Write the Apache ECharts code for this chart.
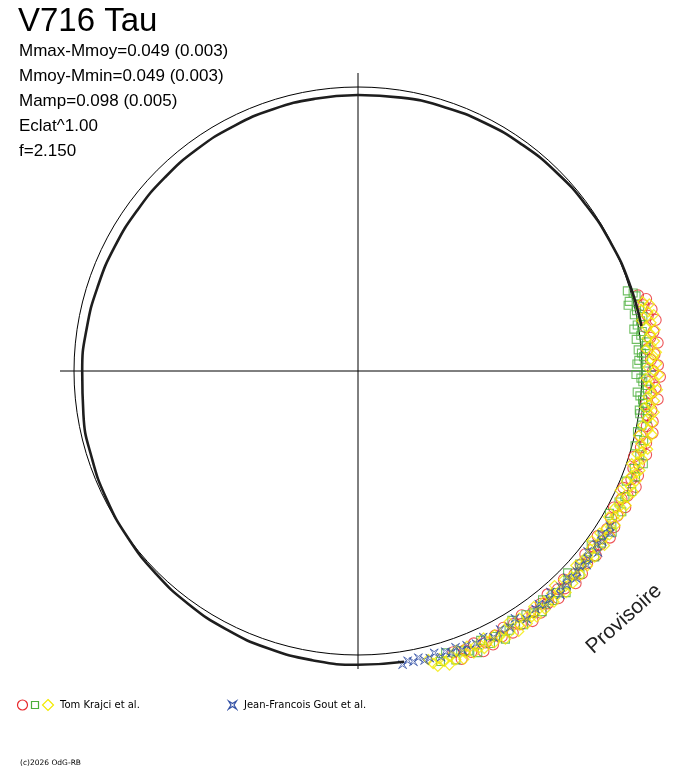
<!DOCTYPE html>
<html style="height: 100%">
<head>
<meta charset="utf-8">
</head>
<body style="height: 100%; margin: 0; background: #fff">
<div id="container" style="width: 688px; height: 768px"></div>
<script type="text/javascript" src="https://cdn.jsdelivr.net/npm/echarts@6/dist/echarts.min.js"></script>
<script type="text/javascript">
// phase runs clockwise from the top, dmag = mean mag - mag (outward = brighter)
var starName = 'V716 Tau';
var statLines = ['Mmax-Mmoy=0.049 (0.003)', 'Mmoy-Mmin=0.049 (0.003)', 'Mamp=0.098 (0.005)', 'Eclat^1.00', 'f=2.150'];
var seriesNames = ['Tom Krajci et al.', 'Jean-Francois Gout et al.'];

// black band (other observations) read round the circle; hidden under the coloured points from 0.23 to 0.47
var curvePhase = [0, 0.025, 0.05, 0.075, 0.1, 0.125, 0.15, 0.175, 0.2, 0.225, 0.25, 0.275, 0.3, 0.325, 0.35, 0.375, 0.4,
  0.425, 0.45, 0.475, 0.5, 0.525, 0.55, 0.575, 0.6, 0.625, 0.65, 0.675, 0.7, 0.725, 0.75, 0.775, 0.8, 0.825, 0.85, 0.875,
  0.9, 0.925, 0.95, 0.975, 1];
var curveDmag = [-0.040, -0.036, -0.032, -0.027, -0.022, -0.016, -0.010, -0.003, 0.006, 0.015, 0.025, 0.030, 0.035, 0.041,
  0.046, 0.050, 0.054, 0.055, 0.054, 0.052, 0.049, 0.044, 0.038, 0.030, 0.021, 0.011, 0.001, -0.009, -0.020, -0.030, -0.041,
  -0.047, -0.052, -0.054, -0.055, -0.053, -0.050, -0.047, -0.044, -0.042, -0.040];

// Tom Krajci et al. : [phase, dmag]
var krajciRed = [[0.208, 0.030], [0.211, 0.065], [0.214, 0.045], [0.217, 0.080], [0.220, 0.055], [0.223, 0.090], [0.226, 0.035],
  [0.229, 0.070], [0.232, 0.050], [0.235, 0.085], [0.238, 0.030], [0.241, 0.065], [0.244, 0.045], [0.247, 0.080], [0.250, 0.055],
  [0.253, 0.090], [0.256, 0.035], [0.259, 0.070], [0.262, 0.050], [0.265, 0.085], [0.268, 0.030], [0.271, 0.060], [0.274, 0.040],
  [0.277, 0.075], [0.280, 0.050], [0.283, 0.085], [0.286, 0.030], [0.289, 0.065], [0.292, 0.045], [0.295, 0.080], [0.298, 0.025],
  [0.301, 0.060], [0.304, 0.040], [0.307, 0.075], [0.310, 0.050], [0.313, 0.085], [0.316, 0.030], [0.319, 0.065], [0.322, 0.045],
  [0.325, 0.080], [0.328, 0.030], [0.331, 0.065], [0.334, 0.045], [0.337, 0.080], [0.340, 0.055], [0.343, 0.090], [0.346, 0.035],
  [0.349, 0.070], [0.352, 0.050], [0.355, 0.085], [0.358, 0.040], [0.361, 0.075], [0.364, 0.055], [0.367, 0.090], [0.370, 0.065],
  [0.373, 0.100], [0.376, 0.045], [0.379, 0.080], [0.382, 0.060], [0.385, 0.095], [0.388, 0.045], [0.391, 0.080], [0.394, 0.060],
  [0.397, 0.095], [0.400, 0.070], [0.403, 0.105], [0.406, 0.050], [0.409, 0.085], [0.412, 0.065], [0.415, 0.100], [0.418, 0.055],
  [0.421, 0.090], [0.424, 0.070], [0.427, 0.105], [0.430, 0.080], [0.433, 0.115], [0.436, 0.060], [0.439, 0.095], [0.442, 0.075],
  [0.445, 0.110], [0.448, 0.065]];
var krajciGreen = [[0.204, -0.015], [0.206, 0.010], [0.208, 0.020], [0.210, -0.020], [0.212, -0.030], [0.214, 0.025],
  [0.216, 0.005], [0.218, -0.010], [0.220, 0.030], [0.222, 0.015], [0.224, -0.005], [0.226, -0.025], [0.228, 0.015],
  [0.230, 0.005], [0.232, -0.020], [0.234, 0.030], [0.236, 0.025], [0.238, -0.015], [0.240, 0.000], [0.242, 0.010],
  [0.244, -0.015], [0.246, -0.025], [0.248, 0.020], [0.250, 0.020], [0.252, -0.030], [0.254, -0.005], [0.256, 0.005],
  [0.258, 0.025], [0.260, 0.030], [0.262, -0.020], [0.264, -0.005], [0.266, 0.010], [0.268, 0.015], [0.270, 0.030],
  [0.272, 0.000], [0.274, 0.005], [0.276, 0.045], [0.280, 0.025],
  [0.284, 0.010], [0.288, 0.050], [0.292, 0.015], [0.296, 0.050], [0.300, 0.080], [0.304, 0.045], [0.308, 0.065], [0.312, 0.030],
  [0.316, 0.075], [0.320, 0.055], [0.324, 0.040], [0.328, 0.075], [0.332, 0.025], [0.336, 0.060], [0.340, 0.085], [0.344, 0.050],
  [0.348, 0.070], [0.352, 0.035], [0.356, 0.085], [0.360, 0.060], [0.364, 0.050], [0.368, 0.085], [0.372, 0.035], [0.376, 0.070],
  [0.380, 0.100], [0.384, 0.065], [0.388, 0.085], [0.392, 0.050], [0.396, 0.095], [0.400, 0.075], [0.404, 0.060], [0.408, 0.095],
  [0.412, 0.045], [0.416, 0.080], [0.420, 0.110], [0.424, 0.075], [0.428, 0.095], [0.432, 0.060], [0.436, 0.110], [0.440, 0.085],
  [0.444, 0.070], [0.448, 0.105], [0.452, 0.055], [0.456, 0.090]];
var krajciYellow = [[0.212, 0.045], [0.214, 0.075], [0.216, 0.030], [0.218, 0.060], [0.220, 0.085], [0.222, 0.020], [0.224, 0.065],
  [0.226, 0.040], [0.228, 0.080], [0.230, 0.055], [0.232, 0.035], [0.234, 0.070], [0.236, 0.050], [0.238, 0.025], [0.240, 0.075],
  [0.242, 0.060], [0.244, 0.045], [0.246, 0.075], [0.248, 0.030], [0.250, 0.060], [0.252, 0.085], [0.254, 0.020], [0.256, 0.065],
  [0.258, 0.040], [0.260, 0.080], [0.262, 0.055], [0.264, 0.035], [0.266, 0.070], [0.268, 0.050], [0.270, 0.025], [0.272, 0.075],
  [0.274, 0.060], [0.276, 0.045], [0.278, 0.075], [0.280, 0.030], [0.282, 0.060], [0.284, 0.085], [0.286, 0.020], [0.288, 0.065],
  [0.290, 0.040], [0.292, 0.080], [0.294, 0.055], [0.296, 0.035], [0.298, 0.070], [0.300, 0.050], [0.302, 0.025], [0.304, 0.075],
  [0.306, 0.060], [0.308, 0.045], [0.310, 0.075], [0.312, 0.030], [0.314, 0.060], [0.316, 0.085], [0.318, 0.020], [0.320, 0.065],
  [0.322, 0.040], [0.324, 0.080], [0.326, 0.055], [0.328, 0.035], [0.330, 0.075], [0.332, 0.055], [0.334, 0.030], [0.336, 0.080],
  [0.338, 0.065], [0.340, 0.050], [0.342, 0.080], [0.344, 0.035], [0.346, 0.065], [0.348, 0.090], [0.350, 0.025], [0.352, 0.070],
  [0.354, 0.045], [0.356, 0.085], [0.358, 0.060], [0.360, 0.050], [0.362, 0.085], [0.364, 0.065], [0.366, 0.040], [0.368, 0.090],
  [0.370, 0.075], [0.372, 0.060], [0.374, 0.090], [0.376, 0.045], [0.378, 0.075], [0.380, 0.100], [0.382, 0.035], [0.384, 0.080],
  [0.386, 0.055], [0.388, 0.095], [0.390, 0.080], [0.392, 0.060], [0.394, 0.095], [0.396, 0.075], [0.398, 0.050], [0.400, 0.100],
  [0.402, 0.085], [0.404, 0.070], [0.406, 0.100], [0.408, 0.055], [0.410, 0.085], [0.412, 0.110], [0.414, 0.045], [0.416, 0.090],
  [0.418, 0.065], [0.420, 0.110], [0.422, 0.085], [0.424, 0.065], [0.426, 0.100], [0.428, 0.080], [0.430, 0.055], [0.432, 0.105],
  [0.434, 0.090], [0.436, 0.075], [0.438, 0.105], [0.440, 0.060], [0.442, 0.090], [0.444, 0.115], [0.446, 0.060], [0.448, 0.105],
  [0.450, 0.080], [0.452, 0.120], [0.454, 0.095], [0.456, 0.075], [0.458, 0.110], [0.460, 0.090], [0.462, 0.065]];
// Jean-Francois Gout et al.
var goutBlue = [[0.338, 0.060], [0.341, 0.080], [0.344, 0.045], [0.347, 0.070], [0.350, 0.055], [0.353, 0.085], [0.356, 0.040],
  [0.359, 0.065], [0.362, 0.080], [0.365, 0.055], [0.368, 0.065], [0.371, 0.085], [0.374, 0.050], [0.377, 0.075], [0.380, 0.060],
  [0.383, 0.090], [0.386, 0.045], [0.389, 0.070], [0.392, 0.080], [0.395, 0.055], [0.398, 0.065], [0.405, 0.080], [0.410, 0.045],
  [0.415, 0.070], [0.420, 0.055], [0.425, 0.075], [0.430, 0.050], [0.435, 0.065], [0.440, 0.055], [0.443, 0.070], [0.446, 0.045],
  [0.449, 0.065], [0.452, 0.050], [0.455, 0.070], [0.458, 0.040], [0.461, 0.060], [0.464, 0.065], [0.467, 0.045], [0.470, 0.060],
  [0.473, 0.050], [0.476, 0.065]];

var colRed = '#e8282c', colGreen = '#4caf3c', colYellow = '#f2ea00', colBlue = '#3552a6';
var starPath = 'path://M0,0 L5,3.5 L10,0 L6.5,5 L10,10 L5,6.5 L0,10 L3.5,5 Z';

function toPolar(pts) {
  return pts.map(function (p) { return [p[1], p[0]]; });
}
var curveAll = curvePhase.map(function (p, i) { return [curveDmag[i], p]; });
var curveHead = curveAll.filter(function (d) { return d[1] <= 0.225; });
var curveTail = curveAll.filter(function (d) { return d[1] >= 0.475; });

function hollow(name, pts, symbol, size, color, bw) {
  return {
    name: name, type: 'scatter', coordinateSystem: 'polar', polarIndex: 0,
    data: toPolar(pts), symbol: symbol, symbolSize: size, clip: false,
    itemStyle: { color: 'rgba(0,0,0,0)', borderColor: color, borderWidth: bw },
    silent: true
  };
}
function band(data) {
  return {
    type: 'line', coordinateSystem: 'polar', polarIndex: 0, data: data,
    smooth: true, symbol: 'none', clip: false, silent: true,
    lineStyle: { color: '#1e1e1e', width: 2.6 }
  };
}

var font = '"Liberation Sans", Arial, sans-serif';
var graphics = [
  { type: 'text', x: 18, y: 22, style: { text: starName, font: '33px ' + font, fill: '#000', verticalAlign: 'middle' } }
];
statLines.forEach(function (t, i) {
  graphics.push({ type: 'text', x: 19, y: 51 + i * 25, style: { text: t, font: '17px ' + font, fill: '#000', verticalAlign: 'middle' } });
});
// legend
graphics.push(
  { type: 'circle', shape: { cx: 22.5, cy: 705, r: 5 }, style: { fill: 'none', stroke: colRed, lineWidth: 1.2 } },
  { type: 'rect', shape: { x: 31.5, y: 701.5, width: 7, height: 7 }, style: { fill: 'none', stroke: colGreen, lineWidth: 1.2 } },
  { type: 'polygon', shape: { points: [[48, 699.5], [53.5, 705], [48, 710.5], [42.5, 705]] }, style: { fill: 'none', stroke: colYellow, lineWidth: 1.2 } },
  { type: 'text', x: 60, y: 705.5, style: { text: seriesNames[0], font: '10px "DejaVu Sans", sans-serif', fill: '#000', verticalAlign: 'middle' } },
  { type: 'polygon', shape: { points: [[228.5, 701], [232.5, 703.5], [236.5, 701], [234, 705], [236.5, 709], [232.5, 706.5], [228.5, 709], [231, 705]] },
    style: { fill: 'none', stroke: colBlue, lineWidth: 1.2 } },
  { type: 'text', x: 244, y: 705.5, style: { text: seriesNames[1], font: '10px "DejaVu Sans", sans-serif', fill: '#000', verticalAlign: 'middle' } },
  { type: 'text', x: 20, y: 763.5, style: { text: '(c)2026 OdG-RB', font: '7.5px "DejaVu Sans", sans-serif', fill: '#000', verticalAlign: 'middle' } },
  { type: 'text', x: 624, y: 619, rotation: 0.733, style: { text: 'Provisoire', font: '21px ' + font, fill: '#222', align: 'center', verticalAlign: 'middle' } }
);

var dom = document.getElementById('container');
var myChart = echarts.init(dom);
var option = {
  backgroundColor: '#fff',
  animation: false,
  polar: [
    { center: [358, 371], radius: 298 },   // data + cross
    { center: [358, 371], radius: 284 }    // mean circle
  ],
  angleAxis: [
    {
      polarIndex: 0, type: 'value', min: 0, max: 1, interval: 0.25, startAngle: 90, clockwise: true,
      axisLine: { show: false }, axisTick: { show: false }, axisLabel: { show: false },
      splitLine: { show: true, lineStyle: { color: '#000', width: 1 } }
    },
    {
      polarIndex: 1, type: 'value', min: 0, max: 1, startAngle: 90, clockwise: true,
      axisLine: { show: true, lineStyle: { color: '#000', width: 1 } }, axisTick: { show: false },
      axisLabel: { show: false }, splitLine: { show: false }
    }
  ],
  radiusAxis: [
    { polarIndex: 0, type: 'value', min: -1.42, max: 0.07, axisLine: { show: false }, axisTick: { show: false }, axisLabel: { show: false }, splitLine: { show: false } },
    { polarIndex: 1, type: 'value', min: 0, max: 1, axisLine: { show: false }, axisTick: { show: false }, axisLabel: { show: false }, splitLine: { show: false } }
  ],
  series: [
    band(curveHead),
    band(curveTail),
    hollow(seriesNames[0], krajciRed, 'circle', 11, colRed, 1.1),
    hollow(seriesNames[0], krajciGreen, 'rect', 8, colGreen, 1.1),
    hollow(seriesNames[0], krajciYellow, 'diamond', 10, colYellow, 1.3),
    hollow(seriesNames[1], goutBlue, starPath, 8, colBlue, 1)
  ],
  graphic: graphics
};
if (option && typeof option === 'object') {
  myChart.setOption(option, true);
}
</script>
</body>
</html>
